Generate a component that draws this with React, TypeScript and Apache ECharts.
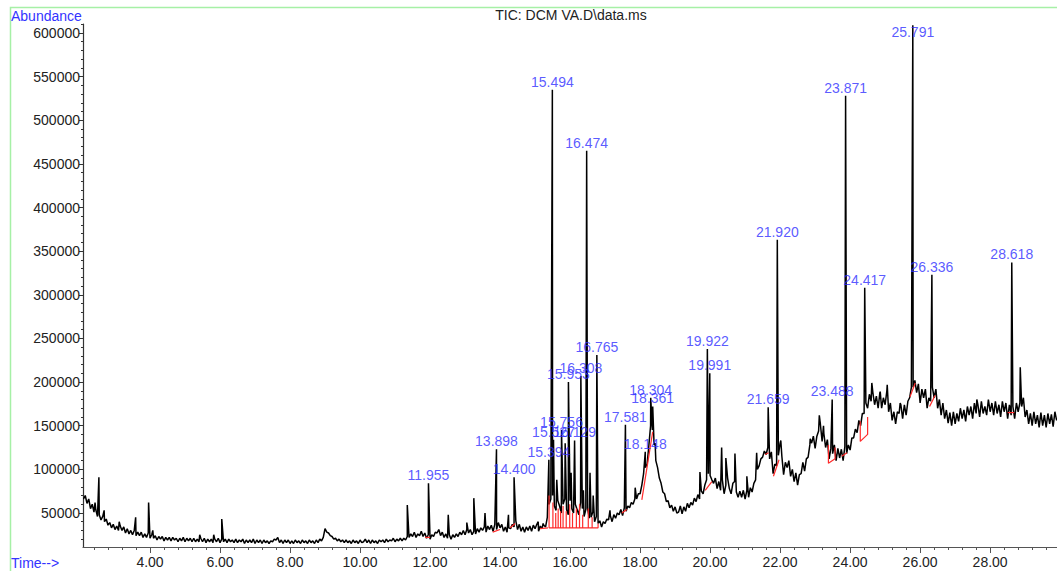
import React, { useEffect, useRef } from "react";
import * as echarts from "echarts";

// Background trace: one row per minute, 20 readings every 0.05 min, abundance in thousands
const TRACE_STEP = 0.05;
const traceRowStarts = [
  2.1, 3.1, 4.1, 5.1, 6.1, 7.1, 8.1, 9.1, 10.1, 11.1, 12.1, 13.1, 14.1, 15.1,
  16.1, 17.1, 18.1, 19.1, 20.1, 21.1, 22.1, 23.1, 24.1, 25.1, 26.1, 27.1, 28.1, 29.1,
];
const traceRowsK = [
  [66, 70, 61, 66, 55, 60, 51, 54, 46, 48, 42, 46, 40, 43, 36, 39, 33, 37, 31, 35],
  [30, 35, 30, 34, 27, 32, 26, 30, 25, 30, 24, 28, 24, 28, 22, 26, 22, 27, 21, 25],
  [21, 24, 19, 23, 20, 23, 18, 22, 19, 22, 18, 22, 19, 21, 17, 21, 18, 22, 17, 21],
  [18, 21, 17, 21, 17, 20, 17, 21, 17, 21, 16, 20, 17, 20, 16, 20, 17, 21, 16, 20],
  [17, 20, 16, 20, 17, 19, 16, 20, 16, 19, 17, 20, 15, 19, 16, 19, 16, 20, 15, 19],
  [16, 19, 15, 19, 16, 18, 15, 18, 17, 20, 19, 22, 16, 19, 15, 19, 16, 19, 15, 18],
  [15, 19, 16, 18, 15, 19, 16, 18, 15, 19, 16, 18, 15, 19, 16, 20, 18, 22, 32, 28],
  [27, 24, 23, 20, 21, 18, 20, 17, 19, 16, 19, 16, 18, 15, 19, 16, 18, 15, 19, 16],
  [17, 20, 16, 19, 15, 19, 16, 18, 15, 19, 17, 19, 16, 20, 17, 19, 18, 21, 17, 20],
  [18, 21, 18, 21, 19, 23, 22, 26, 23, 28, 22, 26, 24, 29, 23, 27, 21, 25, 20, 25],
  [23, 28, 27, 31, 24, 28, 22, 26, 21, 25, 20, 25, 22, 26, 23, 28, 25, 30, 25, 31],
  [27, 31, 25, 29, 26, 32, 28, 33, 30, 34, 28, 35, 31, 36, 29, 37, 31, 39, 33, 37],
  [29, 34, 28, 33, 32, 37, 34, 41, 31, 37, 29, 34, 28, 34, 30, 35, 29, 36, 32, 37],
  [29, 35, 32, 36, 34, 45, 60, 66, 70, 58, 53, 64, 58, 50, 60, 66, 54, 48, 64, 55],
  [50, 60, 54, 48, 62, 55, 46, 54, 55, 44, 45, 51, 40, 46, 38, 41, 34, 40, 38, 43],
  [42, 47, 40, 48, 44, 50, 48, 54, 47, 56, 52, 58, 56, 62, 60, 66, 66, 72, 72, 82],
  [95, 102, 106, 127, 150, 145, 128, 110, 102, 90, 84, 74, 72, 63, 64, 56, 59, 52, 57, 50],
  [51, 58, 49, 57, 52, 61, 56, 62, 59, 67, 63, 71, 66, 75, 72, 82, 88, 95, 93, 88],
  [84, 90, 78, 86, 76, 88, 72, 82, 90, 78, 72, 84, 86, 74, 68, 75, 68, 76, 66, 76],
  [68, 79, 74, 84, 88, 100, 104, 112, 114, 121, 117, 125, 112, 120, 95, 106, 104, 116, 130, 115],
  [94, 108, 102, 110, 92, 100, 86, 96, 82, 94, 95, 108, 98, 112, 114, 128, 130, 138, 124, 138],
  [144, 152, 132, 141, 125, 134, 112, 124, 118, 128, 110, 124, 113, 123, 110, 126, 118, 128, 122, 136],
  [136, 146, 142, 156, 150, 164, 164, 176, 170, 186, 178, 188, 174, 184, 170, 188, 170, 182, 174, 190],
  [166, 176, 156, 166, 152, 166, 164, 174, 158, 174, 162, 178, 182, 194, 194, 202, 188, 198, 176, 192],
  [182, 192, 170, 182, 178, 194, 182, 192, 170, 180, 162, 176, 158, 168, 153, 165, 150, 166, 152, 164],
  [155, 170, 158, 168, 155, 172, 162, 172, 158, 176, 164, 174, 160, 178, 164, 172, 162, 180, 166, 176],
  [162, 178, 164, 174, 160, 178, 166, 176, 158, 174, 162, 172, 158, 176, 166, 176, 172, 182, 160, 168],
  [152, 164, 150, 166, 152, 162, 148, 165, 150, 162, 148, 164, 152, 163, 149, 166, 156],
];

// Labelled peaks: retention time (min) and apex abundance (thousands)
const peakTimes = [
  11.955, 13.898, 14.4, 15.394, 15.494, 15.527, 15.756, 15.953, 16.129, 16.308,
  16.474, 16.765, 17.581, 18.148, 18.304, 18.361, 19.922, 19.991, 21.659, 21.92,
  23.488, 23.871, 24.417, 25.791, 26.336, 28.618,
];
const peakHeightsK = [
  84, 123, 91, 111, 535, 134, 145, 200, 133, 207,
  465, 231, 151, 120, 182, 172, 238, 210, 171, 363,
  180, 528, 308, 609, 323, 337,
];

// Unlabelled peaks: time (min), apex (thousands)
const minorPeakTimes = [
  2.43, 2.54, 2.69, 3.12, 3.59, 3.96, 4.08, 5.42, 5.82, 6.05,
  11.35, 12.52, 13.05, 13.25, 13.57, 14.24, 15.09, 15.23, 15.62, 15.86,
  16.03, 16.38, 16.57, 16.66, 17.14, 17.86, 18.43, 19.71, 20.33, 20.45,
  20.71, 21.05, 21.33, 22.02, 22.86, 23.12, 23.24, 24.62, 24.86, 25.06,
  25.43, 27.62, 28.86,
];
const minorPeakHeightsK = [
  62, 91, 53, 40, 45, 62, 30, 25, 25, 43,
  59, 48, 39, 67, 50, 48, 40, 38, 88, 130,
  96, 76, 96, 70, 53, 79, 130, 97, 125, 113,
  118, 92, 119, 133, 135, 162, 150, 199, 189, 197,
  176, 180, 217,
];

// Integration baselines (red), each a polyline of [time, thousands]
const integrationLines: number[][][] = [
  [[11.86, 22], [12.0, 22]],
  [[13.79, 28], [14.0, 31]],
  [[14.29, 33], [14.43, 38]],
  [[15.14, 32], [15.37, 33]],
  [[17.48, 50], [17.62, 54]],
  [[18.05, 65], [18.36, 143]],
  [[19.86, 76], [20.05, 86]],
  [[21.57, 117], [21.67, 119]],
  [[21.81, 92], [21.97, 111]],
  [[23.38, 128], [23.38, 107], [23.57, 112], [23.57, 125]],
  [[23.76, 115], [23.91, 119]],
  [[24.29, 155], [24.29, 132], [24.5, 140], [24.5, 160]],
  [[25.71, 183], [25.86, 199]],
  [[26.27, 172], [26.43, 185]],
  [[28.5, 165], [28.69, 165]],
];
// Dropped-baseline comb under the 15.4-16.8 cluster
const combBaseK = 33;
const combTimes = [15.4, 15.51, 15.59, 15.66, 15.73, 15.8, 15.89, 15.99, 16.07, 16.18, 16.27, 16.36, 16.52, 16.63, 16.8];
const combTopsK = [70, 62, 50, 55, 52, 58, 52, 60, 50, 55, 60, 48, 55, 45, 38];

const xMajorTicks = [4, 6, 8, 10, 12, 14, 16, 18, 20, 22, 24, 26, 28];
const yMajorTicks = [50000, 100000, 150000, 200000, 250000, 300000, 350000, 400000, 450000, 500000, 550000, 600000];

const X_MIN = 2.086;
const X_MAX = 29.91;
const Y_MIN = 11000;
const Y_MAX = 610300;

const FONT = "'Liberation Sans', Arial, sans-serif";

export default function App() {
  const ref = useRef<HTMLDivElement>(null);

  useEffect(() => {
    if (!ref.current) return;
    const chart = echarts.init(ref.current, undefined, { renderer: "svg" });

    const pts: [number, number][] = [];
    traceRowsK.forEach((row, r) => {
      row.forEach((v, j) => {
        pts.push([+(traceRowStarts[r] + j * TRACE_STEP).toFixed(3), v * 1000]);
      });
    });
    peakTimes.forEach((t, i) => pts.push([t, peakHeightsK[i] * 1000]));
    minorPeakTimes.forEach((t, i) => pts.push([t, minorPeakHeightsK[i] * 1000]));
    pts.sort((a, b) => a[0] - b[0]);

    const comb: [number, number][] = [];
    combTimes.forEach((t, i) => {
      comb.push([t, combBaseK * 1000]);
      comb.push([t, combTopsK[i] * 1000]);
      comb.push([t, combBaseK * 1000]);
    });

    const redSeries = [...integrationLines.map((l) => l.map(([t, v]) => [t, v * 1000])), comb].map((d) => ({
      type: "line",
      data: d,
      symbol: "none",
      xAxisIndex: 0,
      yAxisIndex: 0,
      lineStyle: { color: "#ff2a2a", width: 1.2 },
      z: 4,
      silent: true,
    }));

    const xMinor: number[] = [];
    for (let k = 6; k * 0.4 < X_MAX; k++) xMinor.push(+(k * 0.4).toFixed(1));
    const yMinor: number[] = [];
    for (let k = 2; k * 10000 < Y_MAX; k++) yMinor.push(k * 10000);

    const labelData = peakTimes.map((t, i) => {
      const v = peakHeightsK[i] * 1000;
      const item: any = { value: [t, v] };
      if (v > 590000) item.label = { position: "bottom", distance: 0 };
      return item;
    });

    chart.setOption({
      animation: false,
      backgroundColor: "#ffffff",
      grid: { left: 83, right: 0, top: 24, bottom: 24, containLabel: false },
      xAxis: [
        {
          type: "value",
          min: X_MIN,
          max: X_MAX,
          position: "bottom",
          axisLine: { show: true, lineStyle: { color: "#555", width: 1.2 } },
          axisTick: { show: true, customValues: xMajorTicks, length: 6, lineStyle: { color: "#555" } },
          axisLabel: {
            customValues: xMajorTicks,
            formatter: (v: number) => v.toFixed(2),
            color: "#222",
            fontSize: 14,
            fontFamily: FONT,
            margin: 8,
          },
          splitLine: { show: false },
        },
        {
          type: "value",
          min: X_MIN,
          max: X_MAX,
          position: "bottom",
          axisLine: { show: false },
          axisTick: { show: true, customValues: xMinor, length: 3, lineStyle: { color: "#555" } },
          axisLabel: { show: false },
          splitLine: { show: false },
        },
      ],
      yAxis: [
        {
          type: "value",
          min: Y_MIN,
          max: Y_MAX,
          position: "left",
          axisLine: { show: true, lineStyle: { color: "#333", width: 1.2 } },
          axisTick: { show: true, customValues: yMajorTicks, length: 4, lineStyle: { color: "#333" } },
          axisLabel: {
            customValues: yMajorTicks,
            formatter: (v: number) => String(v),
            color: "#222",
            fontSize: 14,
            fontFamily: FONT,
            margin: 3,
          },
          splitLine: { show: false },
        },
        {
          type: "value",
          min: Y_MIN,
          max: Y_MAX,
          position: "left",
          axisLine: { show: false },
          axisTick: { show: true, customValues: yMinor, length: 2, lineStyle: { color: "#333" } },
          axisLabel: { show: false },
          splitLine: { show: false },
        },
      ],
      graphic: [
        {
          type: "rect",
          shape: { x: 10.5, y: 7.5, width: 1100, height: 700 },
          style: { fill: "none", stroke: "#a6f0a6", lineWidth: 1.5 },
          silent: true,
          z: 0,
        },
        {
          type: "text",
          x: 11,
          y: 16,
          style: { text: "Abundance", fill: "#3333ff", font: `14px ${FONT}`, textVerticalAlign: "middle" },
        },
        {
          type: "text",
          x: 11,
          y: 563,
          style: { text: "Time-->", fill: "#3333ff", font: `14px ${FONT}`, textVerticalAlign: "middle" },
        },
        {
          type: "text",
          x: 571,
          y: 15,
          style: {
            text: "TIC: DCM VA.D\\data.ms",
            fill: "#222",
            font: `14px ${FONT}`,
            textAlign: "center",
            textVerticalAlign: "middle",
          },
        },
      ],
      series: [
        {
          type: "line",
          data: pts,
          symbol: "none",
          xAxisIndex: 0,
          yAxisIndex: 0,
          lineStyle: { color: "#000", width: 1.5 },
          z: 3,
          silent: true,
        },
        ...redSeries,
        {
          type: "scatter",
          data: labelData,
          xAxisIndex: 0,
          yAxisIndex: 0,
          symbolSize: 0.1,
          itemStyle: { color: "rgba(0,0,0,0)" },
          label: {
            show: true,
            position: "top",
            distance: 1,
            formatter: (p: any) => Number(p.value[0]).toFixed(3),
            color: "#2f2fff",
            fontSize: 14,
            fontFamily: FONT,
          },
          z: 5,
          silent: true,
        },
      ],
    });

    return () => chart.dispose();
  }, []);

  return (
    <div
      ref={ref}
      style={{ position: "absolute", left: 0, top: 0, width: 1057, height: 571, background: "#fff" }}
    />
  );
}
